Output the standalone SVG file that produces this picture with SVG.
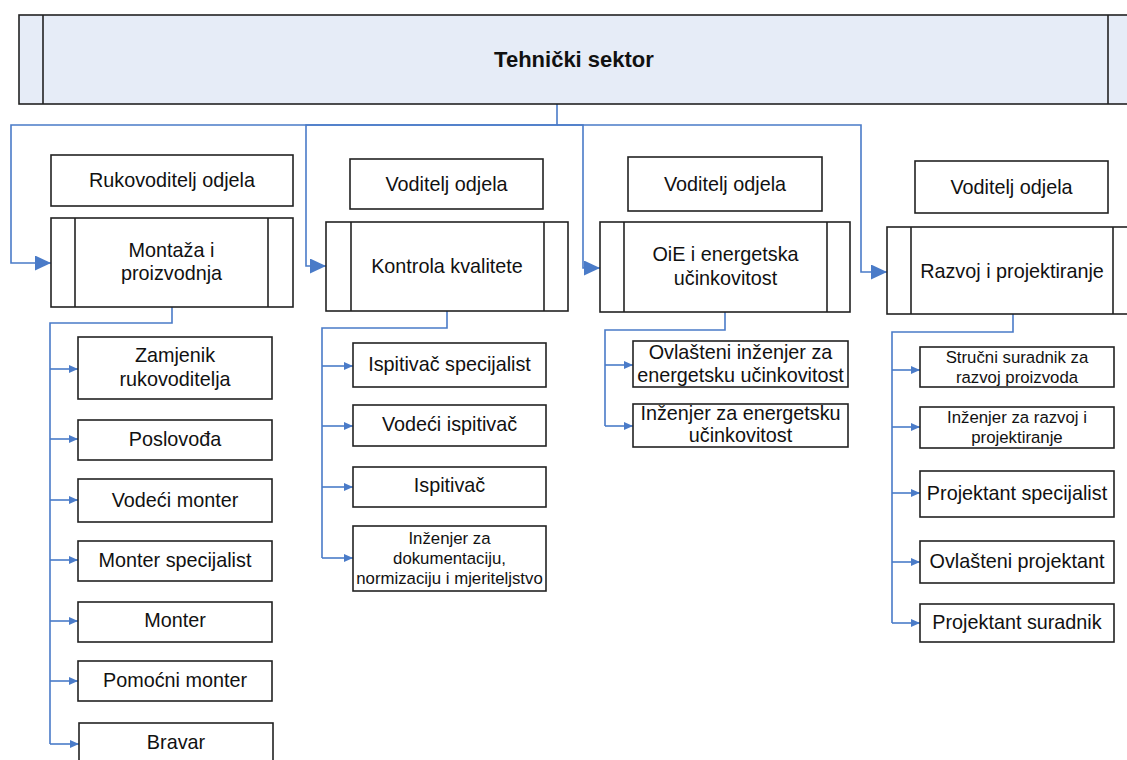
<svg xmlns="http://www.w3.org/2000/svg" width="1127" height="760" viewBox="0 0 1127 760">
<style>
.bx{fill:#fff;stroke:#222;stroke-width:1.6}
.hd{fill:#e6ecf7;stroke:#222;stroke-width:1.6}
.ln{stroke:#222;stroke-width:1.6}
.t{font-family:"Liberation Sans",Arial,sans-serif;font-size:19.8px;fill:#111;text-anchor:middle}
.ts{font-family:"Liberation Sans",Arial,sans-serif;font-size:16.8px;fill:#111;text-anchor:middle}
.th{font-family:"Liberation Sans",Arial,sans-serif;font-size:22px;font-weight:bold;fill:#111;text-anchor:middle}
.c{fill:none;stroke:#4a7bc8;stroke-width:1.6}
.cb{marker-end:url(#ab)}
.cs{marker-end:url(#as)}
</style>
<defs>
<marker id="ab" markerUnits="userSpaceOnUse" markerWidth="16" markerHeight="16" refX="16" refY="7.5" orient="auto"><path d="M0,0 L16,7.5 L0,15 z" fill="#4a7bc8"/></marker>
<marker id="as" markerUnits="userSpaceOnUse" markerWidth="10" markerHeight="9" refX="9" refY="4" orient="auto"><path d="M0,0 L9,4 L0,8 z" fill="#4a7bc8"/></marker>
</defs>
<rect width="1127" height="760" fill="#fff"/>
<g id="connectors" class="c">
<path class="c cb" d="M557,104 V125 H11 V263 H51"/>
<path class="c cb" d="M557,125 H306 V266 H326"/>
<path class="c cb" d="M557,125 H583 V268 H600"/>
<path class="c cb" d="M557,125 H861 V272 H887"/>
<path class="c" d="M172,307 V323 H50 V744"/>
<path class="c cs" d="M50,369 H78"/>
<path class="c cs" d="M50,439 H78"/>
<path class="c cs" d="M50,500 H78"/>
<path class="c cs" d="M50,560 H78"/>
<path class="c cs" d="M50,621 H78"/>
<path class="c cs" d="M50,681 H78"/>
<path class="c cs" d="M50,744 H79"/>
<path class="c" d="M447,311 V328 H322 V558"/>
<path class="c cs" d="M322,366 H353"/>
<path class="c cs" d="M322,426 H353"/>
<path class="c cs" d="M322,487 H353"/>
<path class="c cs" d="M322,558 H353"/>
<path class="c" d="M725,312 V330 H605 V426"/>
<path class="c cs" d="M605,365 H633"/>
<path class="c cs" d="M605,426 H633"/>
<path class="c" d="M1013,314 V332 H892 V623"/>
<path class="c cs" d="M892,370 H920"/>
<path class="c cs" d="M892,427 H920"/>
<path class="c cs" d="M892,493 H920"/>
<path class="c cs" d="M892,562 H920"/>
<path class="c cs" d="M892,623 H920"/>
</g>
<g id="tehnicki-sektor">
<rect class="hd" x="19" y="15" width="1120" height="89"/>
<line class="ln" x1="43" y1="15" x2="43" y2="104"/>
<line class="ln" x1="1108" y1="15" x2="1108" y2="104"/>
<text class="th" x="574" y="67">Tehnički sektor</text>
</g>
<g id="rukovoditelj-odjela">
<rect class="bx" x="51" y="155" width="242" height="51"/>
<text class="t" x="172" y="187">Rukovoditelj odjela</text>
</g>
<g id="montaza">
<rect class="bx" x="51" y="218" width="242" height="89"/>
<line class="ln" x1="75" y1="218" x2="75" y2="307"/>
<line class="ln" x1="268" y1="218" x2="268" y2="307"/>
<text class="t" x="171.5" y="257">Montaža i</text>
<text class="t" x="171.5" y="280">proizvodnja</text>
</g>
<g id="voditelj-2">
<rect class="bx" x="350" y="159" width="193" height="50"/>
<text class="t" x="446.5" y="191">Voditelj odjela</text>
</g>
<g id="kontrola">
<rect class="bx" x="326" y="222" width="242" height="89"/>
<line class="ln" x1="351" y1="222" x2="351" y2="311"/>
<line class="ln" x1="544" y1="222" x2="544" y2="311"/>
<text class="t" x="447" y="273">Kontrola kvalitete</text>
</g>
<g id="voditelj-3">
<rect class="bx" x="628" y="157" width="194" height="54"/>
<text class="t" x="725" y="191">Voditelj odjela</text>
</g>
<g id="oie">
<rect class="bx" x="600" y="222" width="250" height="90"/>
<line class="ln" x1="624" y1="222" x2="624" y2="312"/>
<line class="ln" x1="827" y1="222" x2="827" y2="312"/>
<text class="t" x="725.5" y="261">OiE i energetska</text>
<text class="t" x="725.5" y="285">učinkovitost</text>
</g>
<g id="voditelj-4">
<rect class="bx" x="915" y="161" width="193" height="52"/>
<text class="t" x="1011.5" y="194">Voditelj odjela</text>
</g>
<g id="razvoj">
<rect class="bx" x="887" y="227" width="260" height="87"/>
<line class="ln" x1="911" y1="227" x2="911" y2="314"/>
<line class="ln" x1="1113" y1="227" x2="1113" y2="314"/>
<text class="t" x="1012" y="278">Razvoj i projektiranje</text>
</g>
<g id="zamjenik">
<rect class="bx" x="78" y="337" width="194" height="62"/>
<text class="t" x="175" y="362">Zamjenik</text>
<text class="t" x="175" y="386">rukovoditelja</text>
</g>
<g id="poslovodja">
<rect class="bx" x="78" y="420" width="194" height="40"/>
<text class="t" x="175" y="446">Poslovođa</text>
</g>
<g id="vodeci-monter">
<rect class="bx" x="78" y="479" width="194" height="43"/>
<text class="t" x="175" y="507">Vodeći monter</text>
</g>
<g id="monter-specijalist">
<rect class="bx" x="78" y="541" width="194" height="40"/>
<text class="t" x="175" y="567">Monter specijalist</text>
</g>
<g id="monter">
<rect class="bx" x="78" y="602" width="194" height="40"/>
<text class="t" x="175" y="627">Monter</text>
</g>
<g id="pomocni-monter">
<rect class="bx" x="78" y="661" width="194" height="40"/>
<text class="t" x="175" y="687">Pomoćni monter</text>
</g>
<g id="bravar">
<rect class="bx" x="79" y="723" width="194" height="50"/>
<text class="t" x="176" y="749">Bravar</text>
</g>
<g id="ispitivac-specijalist">
<rect class="bx" x="353" y="343" width="193" height="44"/>
<text class="t" x="449.5" y="371">Ispitivač specijalist</text>
</g>
<g id="vodeci-ispitivac">
<rect class="bx" x="353" y="405" width="193" height="41"/>
<text class="t" x="449.5" y="431">Vodeći ispitivač</text>
</g>
<g id="ispitivac">
<rect class="bx" x="353" y="467" width="193" height="40"/>
<text class="t" x="449.5" y="492">Ispitivač</text>
</g>
<g id="inzenjer-dokumentacija">
<rect class="bx" x="353" y="526" width="193" height="65"/>
<text class="ts" x="449.5" y="544">Inženjer za</text>
<text class="ts" x="449.5" y="564">dokumentaciju,</text>
<text class="ts" x="449.5" y="584">normizaciju i mjeriteljstvo</text>
</g>
<g id="ovlasteni-inzenjer">
<rect class="bx" x="633" y="341" width="215" height="46"/>
<text class="t" x="740.5" y="359">Ovlašteni inženjer za</text>
<text class="t" x="740.5" y="382">energetsku učinkovitost</text>
</g>
<g id="inzenjer-energetska">
<rect class="bx" x="633" y="404" width="215" height="43"/>
<text class="t" x="740.5" y="420">Inženjer za energetsku</text>
<text class="t" x="740.5" y="442">učinkovitost</text>
</g>
<g id="strucni-suradnik">
<rect class="bx" x="920" y="347" width="194" height="40"/>
<text class="ts" x="1017" y="363">Stručni suradnik za</text>
<text class="ts" x="1017" y="383">razvoj proizvoda</text>
</g>
<g id="inzenjer-razvoj">
<rect class="bx" x="920" y="407" width="194" height="41"/>
<text class="ts" x="1017" y="423">Inženjer za razvoj i</text>
<text class="ts" x="1017" y="443">projektiranje</text>
</g>
<g id="projektant-specijalist">
<rect class="bx" x="920" y="471" width="194" height="46"/>
<text class="t" x="1017" y="500">Projektant specijalist</text>
</g>
<g id="ovlasteni-projektant">
<rect class="bx" x="920" y="541" width="194" height="42"/>
<text class="t" x="1017" y="568">Ovlašteni projektant</text>
</g>
<g id="projektant-suradnik">
<rect class="bx" x="920" y="604" width="194" height="38"/>
<text class="t" x="1017" y="629">Projektant suradnik</text>
</g>
</svg>
